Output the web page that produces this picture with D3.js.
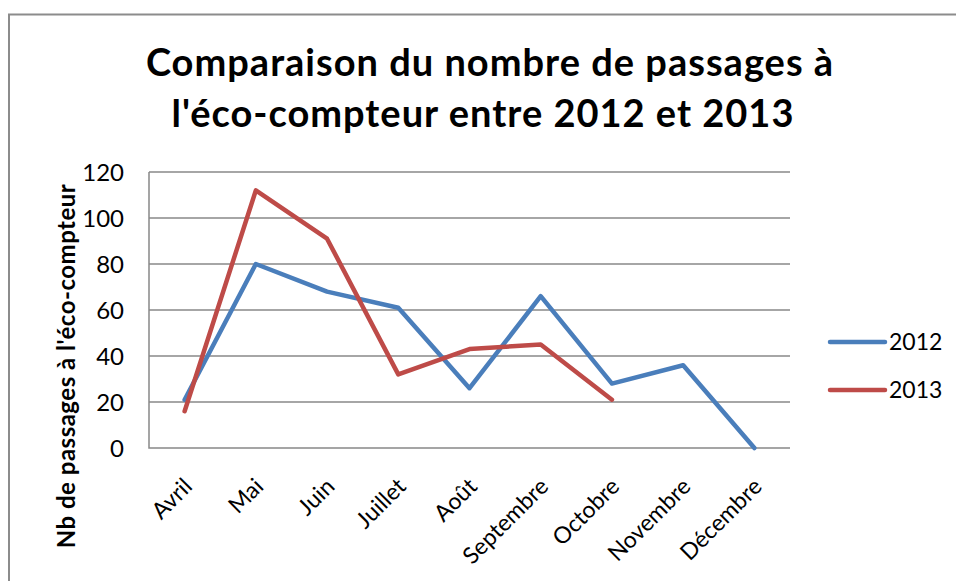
<!DOCTYPE html>
<html>
<head>
<meta charset="utf-8">
<script src="https://cdn.jsdelivr.net/npm/d3@7"></script>
<style>
    body { margin: 0; background: #fff; }
    svg text { font-family: Lato, "Open Sans", sans-serif; fill: #000; }
</style>
</head>
<body>
<div id="chart"></div>
<script>

// months on the x axis
let months = ["Avril", "Mai", "Juin", "Juillet", "Août", "Septembre", "Octobre", "Novembre", "Décembre"];

// passages counted per month
let values2012 = [21, 80, 68, 61, 26, 66, 28, 36, 0];
let values2013 = [16, 112, 91, 32, 43, 45, 21];

let seriesNames = ["2012", "2013"];
let seriesColors = ["#4a7ebb", "#be4b48"];

let yTicks = [0, 20, 40, 60, 80, 100, 120];

let titleLines = ["Comparaison du nombre de passages à", "l'éco-compteur entre 2012 et 2013"];
let yTitle = "Nb de passages à l'éco-compteur";

class LineVis {

    constructor(_parentElement) {
        this.parentElement = _parentElement;
        this.initVis();
    }

    initVis() {
        let vis = this;

        vis.width = 956;
        vis.height = 581;
        vis.plot = { left: 149, top: 172, right: 790, bottom: 448 };

        vis.svg = d3.select("#" + vis.parentElement).append("svg")
            .attr("width", vis.width)
            .attr("height", vis.height);

        // chart frame (right and bottom edges fall outside the picture)
        vis.svg.append("rect")
            .attr("x", 9)
            .attr("y", 14.5)
            .attr("width", 960)
            .attr("height", 600)
            .attr("fill", "#fff")
            .attr("stroke", "#8c8c8c")
            .attr("stroke-width", 2);

        vis.x = d3.scaleBand()
            .domain(months)
            .range([vis.plot.left, vis.plot.right]);

        vis.y = d3.scaleLinear()
            .domain([0, 120])
            .range([vis.plot.bottom, vis.plot.top]);

        vis.wrangleData();
    }

    wrangleData() {
        let vis = this;
        vis.displayData = [values2012, values2013].map(function(vals, i) {
            return {
                name: seriesNames[i],
                color: seriesColors[i],
                points: vals.map(function(v, j) { return { month: months[j], value: v }; })
            };
        });
        vis.updateVis();
    }

    updateVis() {
        let vis = this;
        let cx = function(m) { return vis.x(m) + vis.x.bandwidth() / 2; };

        // title, two lines
        let titleX = [490, 483];
        vis.svg.selectAll(".title")
            .data(titleLines)
            .enter().append("text")
            .attr("class", "title")
            .attr("x", function(d, i) { return titleX[i]; })
            .attr("y", function(d, i) { return 76 + i * 51; })
            .attr("text-anchor", "middle")
            .style("font-size", "38px")
            .style("font-weight", "bold")
            .style("letter-spacing", "1px")
            .text(function(d) { return d; });

        // gridlines
        vis.svg.append("g")
            .selectAll("line")
            .data(yTicks.filter(function(d) { return d > 0; }))
            .enter().append("line")
            .attr("x1", vis.plot.left)
            .attr("x2", vis.plot.right)
            .attr("y1", function(d) { return vis.y(d); })
            .attr("y2", function(d) { return vis.y(d); })
            .attr("stroke", "#888")
            .attr("stroke-width", 1.5);

        // axis lines
        vis.svg.append("path")
            .attr("d", "M" + vis.plot.left + "," + vis.plot.top + "V" + vis.plot.bottom + "H" + vis.plot.right)
            .attr("fill", "none")
            .attr("stroke", "#888")
            .attr("stroke-width", 1.5);

        // y labels
        let yAxis = d3.axisLeft(vis.y).tickValues(yTicks).tickSize(0).tickPadding(25);
        let yG = vis.svg.append("g")
            .attr("transform", "translate(" + vis.plot.left + ",0)")
            .call(yAxis);
        yG.select(".domain").remove();
        yG.selectAll("text")
            .attr("font-family", null)
            .attr("dy", "0.36em")
            .style("font-size", "24px");

        // x labels, rotated
        let xAxis = d3.axisBottom(vis.x).tickSize(0).tickPadding(0);
        let xG = vis.svg.append("g")
            .attr("transform", "translate(0," + vis.plot.bottom + ")")
            .call(xAxis);
        xG.select(".domain").remove();
        xG.selectAll("text")
            .attr("font-family", null)
            .style("font-size", "23px")
            .attr("text-anchor", "end")
            .attr("y", 0)
            .attr("dy", 0)
            .attr("transform", "translate(9,40) rotate(-45)");

        // y axis title
        vis.svg.append("text")
            .attr("transform", "translate(75,366) rotate(-90)")
            .attr("text-anchor", "middle")
            .style("font-size", "24px")
            .style("font-weight", "bold")
            .style("letter-spacing", "0.5px")
            .text(yTitle);

        // lines
        let line = d3.line()
            .x(function(d) { return cx(d.month); })
            .y(function(d) { return vis.y(d.value); });

        vis.svg.selectAll(".series")
            .data(vis.displayData)
            .enter().append("path")
            .attr("class", "series")
            .attr("d", function(d) { return line(d.points); })
            .attr("fill", "none")
            .attr("stroke", function(d) { return d.color; })
            .attr("stroke-width", 4.5)
            .attr("stroke-linejoin", "round")
            .attr("stroke-linecap", "round");

        // legend
        let legend = vis.svg.selectAll(".legend")
            .data(vis.displayData)
            .enter().append("g")
            .attr("class", "legend")
            .attr("transform", function(d, i) { return "translate(830," + (342 + i * 48) + ")"; });

        legend.append("line")
            .attr("x1", 0)
            .attr("x2", 55)
            .attr("stroke", function(d) { return d.color; })
            .attr("stroke-width", 4.5)
            .attr("stroke-linecap", "round");

        legend.append("text")
            .attr("x", 59)
            .attr("dy", "0.36em")
            .style("font-size", "23px")
            .text(function(d) { return d.name; });
    }
}

new LineVis("chart");
</script>
</body>
</html>
